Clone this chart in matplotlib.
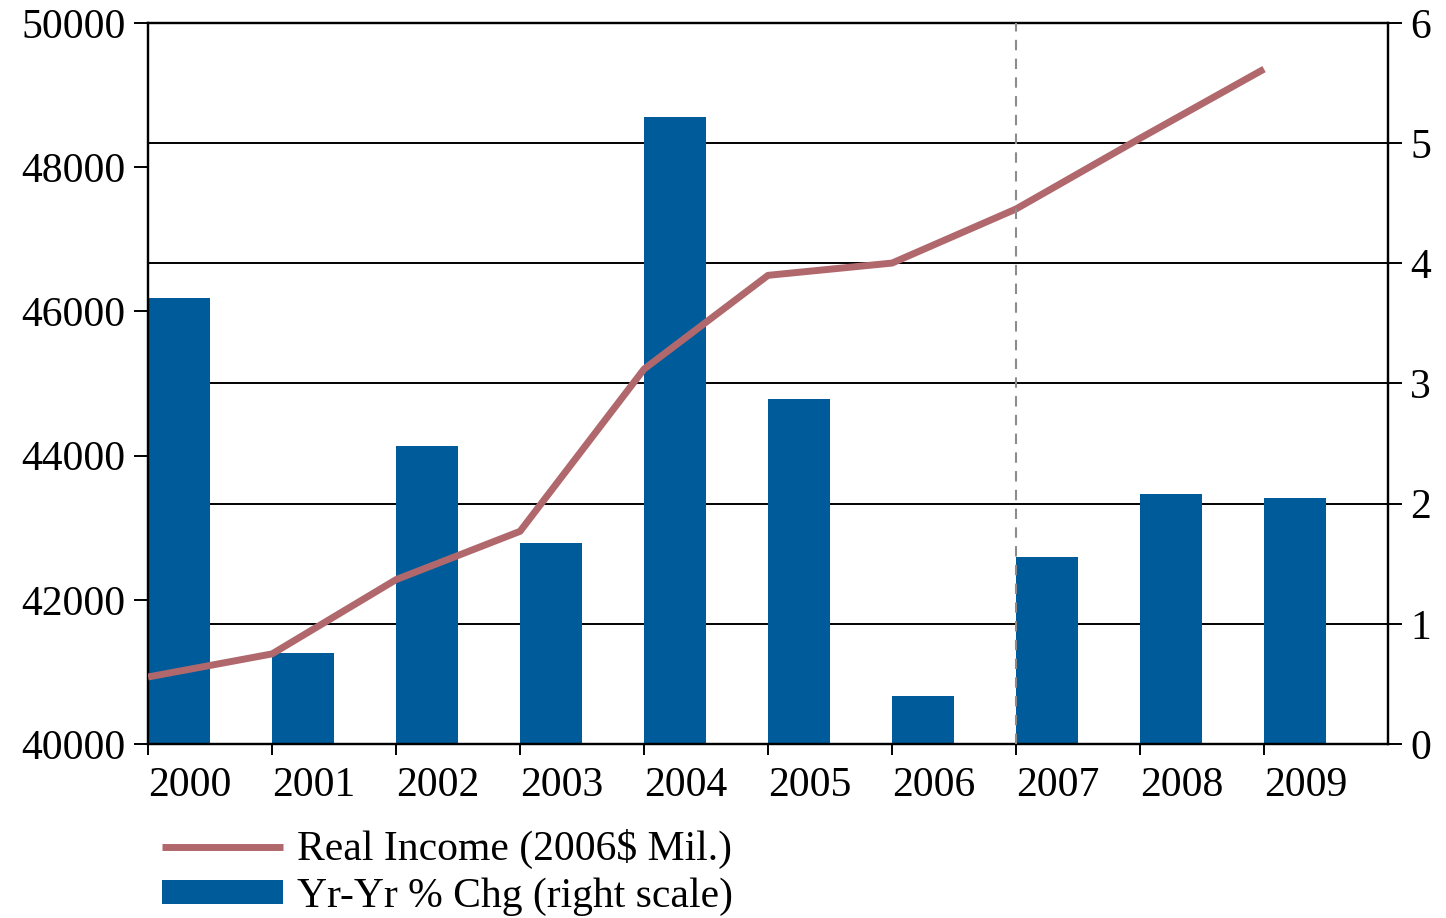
import matplotlib.pyplot as plt
import numpy as np

plt.rcParams['font.family'] = ['Liberation Serif', 'DejaVu Serif']
plt.rcParams['font.size'] = 30

years = ['2000', '2001', '2002', '2003', '2004', '2005', '2006', '2007', '2008', '2009']
real_income = [40930, 41250, 42280, 42950, 45200, 46500, 46670, 47420, 48400, 49360]
yoy_chg = [3.71, 0.76, 2.48, 1.67, 5.22, 2.87, 0.40, 1.56, 2.08, 2.05]

line_color = '#b0686c'
bar_color = '#005b9a'

fig = plt.figure(figsize=(14.46, 9.18), dpi=100)
ax = fig.add_axes([0.1024, 0.1895, 0.8575, 0.7855])
ax2 = ax.twinx()

x = np.arange(len(years))

# bars on the right-hand scale, sitting behind the income line
bars = ax2.bar(x, yoy_chg, width=0.5, align='edge', color=bar_color,
               label='Yr-Yr % Chg (right scale)', zorder=2)
ax2.set_ylim(0, 6)
ax2.set_yticks(range(0, 7))
ax2.yaxis.grid(True, color='black', linewidth=1.4, zorder=0)
ax2.set_axisbelow(True)

line, = ax.plot(x, real_income, color=line_color, linewidth=5,
                solid_capstyle='butt', label='Real Income (2006$ Mil.)', zorder=3)
ax.axvline(7, color='#8c8c8c', linestyle=(0, (5, 4)), linewidth=1.5, zorder=4)
ax.set_zorder(ax2.get_zorder() + 1)
ax.patch.set_visible(False)

ax.set_ylim(40000, 50000)
ax.set_yticks(range(40000, 50001, 2000))
ax.set_xlim(0, 10)
ax.set_xticks(x)
ax.set_xticklabels(years)
for lbl in ax.get_xticklabels():
    lbl.set_horizontalalignment('left')

for a in (ax, ax2):
    for s in a.spines.values():
        s.set_linewidth(1.6)
        s.set_color('black')
ax.tick_params(axis='y', direction='out', length=10, width=1.4, pad=6)
ax.tick_params(axis='x', direction='out', length=8, width=1.4, pad=8)
ax2.tick_params(axis='y', direction='out', length=10, width=1.4, pad=6)

fig.legend(handles=[line, bars], loc='upper left', bbox_to_anchor=(0.112, 0.097),
           frameon=False, handlelength=2.9, handletextpad=0.33,
           labelspacing=0.2, handleheight=0.5, borderaxespad=0, borderpad=0)

fig.savefig('out.png', dpi=100)
